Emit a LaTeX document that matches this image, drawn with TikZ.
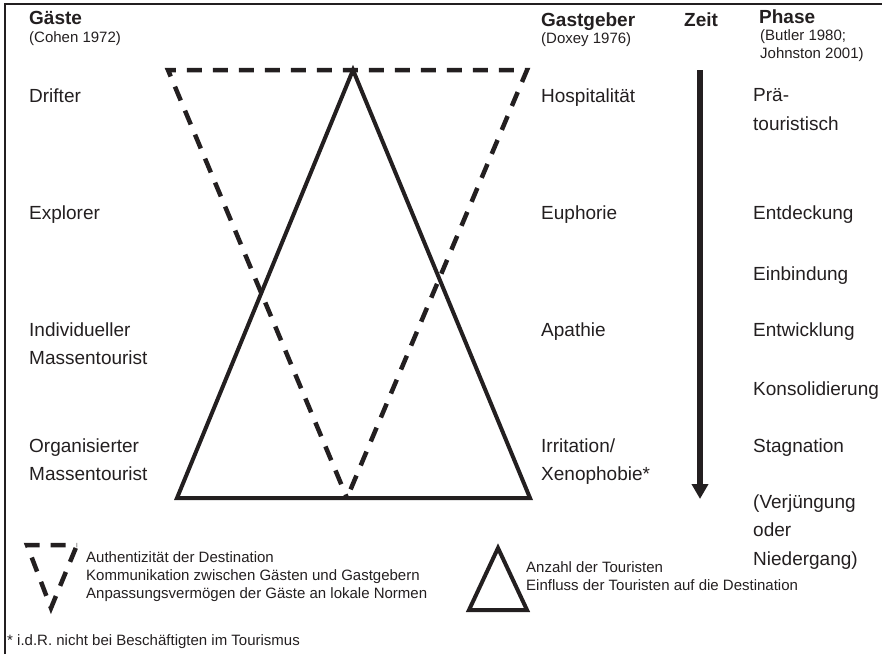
\documentclass[tikz,border=0pt]{standalone}
\usepackage{fontspec}
\setmainfont{Liberation Sans}
\usetikzlibrary{arrows.meta}
\definecolor{ink}{HTML}{231F20}
\begin{document}
\begin{tikzpicture}[x=1pt, y=-1pt, color=ink, line join=miter,
  label node/.style={anchor=base west, inner sep=0pt, align=left, font=\fontsize{19}{28.5}\selectfont},
  head node/.style={anchor=base west, inner sep=0pt, font=\fontsize{19}{22}\selectfont\bfseries},
  small node/.style={anchor=base west, inner sep=0pt, align=left, font=\fontsize{15}{18}\selectfont},
  solid tri/.style={line width=4pt},
  dashed tri/.style={line width=4.5pt, dash pattern=on 15pt off 11pt}]
\useasboundingbox (0,0) rectangle (882,654);
\coordinate (rb) at (5,654);
\coordinate (rl) at (5,4);
\coordinate (rr) at (882,4);
\draw [line width=1.5pt] (rb) -- (rl) -- (rr);
\node [head node](gaeste) at (29,24) {Gäste};
\node [small node](cohen) at (29,42) {(Cohen 1972)};
\node [head node](gastgeber) at (541,26) {Gastgeber};
\node [small node](doxey) at (541,43) {(Doxey 1976)};
\node [head node](zeit) at (684,26) {Zeit};
\node [head node](phase) at (759,23) {Phase};
\node [small node](butler) at (760,58) {(Butler 1980;\\Johnston 2001)};
\node [label node](drifter) at (29,102) {Drifter};
\node [label node](explorer) at (29,219) {Explorer};
\node [label node](individuell) at (29,364.5) {Individueller\\Massentourist};
\node [label node](organisiert) at (29,480.5) {Organisierter\\Massentourist};
\node [label node](hospitalitaet) at (541,102) {Hospitalität};
\node [label node](euphorie) at (541,219) {Euphorie};
\node [label node](apathie) at (541,336) {Apathie};
\node [label node](irritation) at (541,480.5) {Irritation/\\Xenophobie*};
\node [label node](prae) at (753,130) {Prä-\\touristisch};
\node [label node](entdeckung) at (753,219) {Entdeckung};
\node [label node](einbindung) at (753,280) {Einbindung};
\node [label node](entwicklung) at (753,336) {Entwicklung};
\node [label node](konsolidierung) at (753,395) {Konsolidierung};
\node [label node](stagnation) at (753,452) {Stagnation};
\node [label node](verjuengung) at (753,565) {(Verjüngung\\oder\\Niedergang)};
\coordinate (sa) at (353,70);
\coordinate (sl) at (177,498);
\coordinate (sr) at (530,498);
\coordinate (dl) at (168,70);
\coordinate (dr) at (527,70);
\coordinate (db) at (347,498);
\draw [solid tri] (sl) -- (sa) -- (sr) -- cycle;
\draw [dashed tri, dash phase=11.1pt] (db) -- (dl) -- (dr) -- cycle;
\coordinate (zt) at (700,70);
\coordinate (zb) at (700,499);
\draw [line width=6pt, -{Triangle[length=15pt,width=16pt]}] (zt) -- (zb);
\coordinate (ldl) at (27,545);
\coordinate (ldr) at (77,545);
\coordinate (ldb) at (51,608);
\draw [dashed tri, dash phase=22.8pt] (ldr) -- (ldb) -- (ldl) -- cycle;
\coordinate (lsa) at (498,548);
\coordinate (lsl) at (469,610);
\coordinate (lsr) at (527,610);
\draw [solid tri] (lsl) -- (lsa) -- (lsr) -- cycle;
\node [small node](authent) at (86,598) {Authentizität der Destination\\Kommunikation zwischen Gästen und Gastgebern\\Anpassungsvermögen der Gäste an lokale Normen};
\node [small node](anzahl) at (526,590) {Anzahl der Touristen\\Einfluss der Touristen auf die Destination};
\node [small node](fussnote) at (7,645) {* i.d.R. nicht bei Beschäftigten im Tourismus};
\end{tikzpicture}
\end{document}
